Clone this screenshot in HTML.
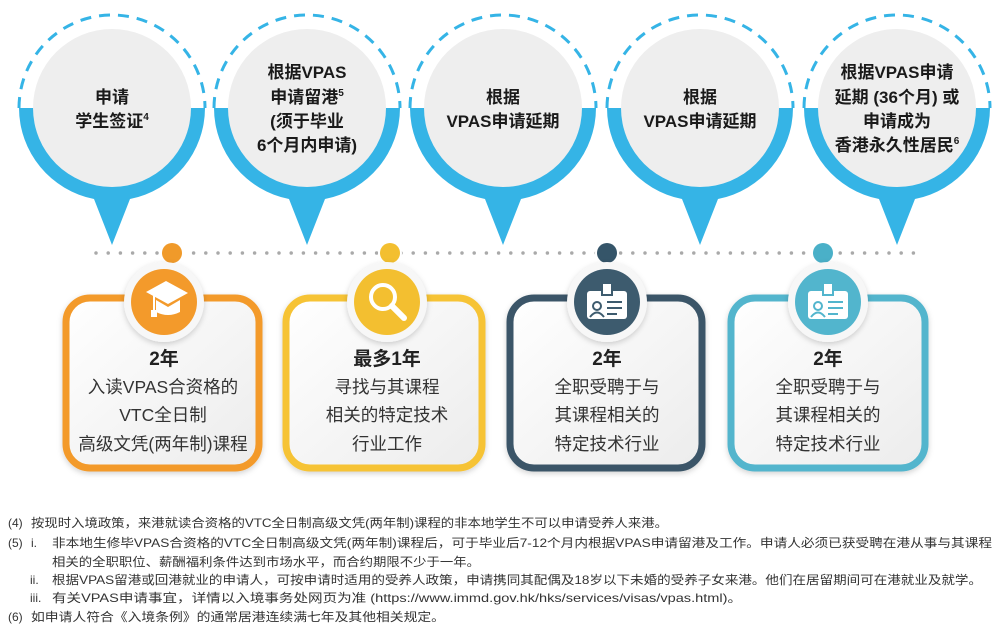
<!DOCTYPE html>
<html><head><meta charset="utf-8"><style>
html,body{margin:0;padding:0;background:#fff;width:1006px;height:630px;overflow:hidden}
svg{display:block}
.t{font-family:"Liberation Sans","Noto Sans CJK SC",sans-serif}
</style></head><body>
<svg width="1006" height="630" viewBox="0 0 1006 630" xmlns="http://www.w3.org/2000/svg">
<defs>
<linearGradient id="cg" x1="0" y1="0" x2="1" y2="1"><stop offset="0" stop-color="#ffffff"/><stop offset="1" stop-color="#ececec"/></linearGradient>
<filter id="sh" x="-20%" y="-20%" width="140%" height="140%"><feDropShadow dx="0" dy="2" stdDeviation="3" flood-color="#000" flood-opacity="0.18"/></filter>
<g id="bubble">
<path d="M -93 0 A 93 93 0 0 0 -18 91 L 0 137 L 18 91 A 93 93 0 0 0 93 0 Z" fill="#35b4e6"/>
<path d="M -93 0 A 93 93 0 0 1 93 0" fill="none" stroke="#35b4e6" stroke-width="3" stroke-dasharray="11 8"/>
<circle cx="0" cy="0" r="79" fill="#eeeeee"/>
</g>
<g id="idcard">
<rect x="-20" y="-14" width="40" height="28" rx="3" fill="#fff"/>
<rect x="-5" y="-22" width="10" height="12" fill="#fff" stroke="currentColor" stroke-width="2"/>
<circle cx="-10" cy="1" r="4" fill="none" stroke="currentColor" stroke-width="2"/>
<path d="M-17 12 Q-10 3 -3 12" fill="none" stroke="currentColor" stroke-width="2"/>
<path d="M0 -3 H15 M0 3 H15 M0 9 H10" stroke="currentColor" stroke-width="2"/>
</g>
</defs>

<use href="#bubble" x="112" y="108"/>
<use href="#bubble" x="307" y="108"/>
<use href="#bubble" x="503" y="108"/>
<use href="#bubble" x="700" y="108"/>
<use href="#bubble" x="897" y="108"/>

<g class="t" font-weight="bold" font-size="17" fill="#1a1a1a" text-anchor="middle">
<text x="112" y="103">申请</text>
<text x="112" y="127">学生签证<tspan font-size="10" dy="-7">4</tspan></text>
<text x="307" y="78">根据VPAS</text>
<text x="307" y="103">申请留港<tspan font-size="10" dy="-7">5</tspan></text>
<text x="307" y="127">(须于毕业</text>
<text x="307" y="151">6个月内申请)</text>
<text x="503" y="103">根据</text>
<text x="503" y="127">VPAS申请延期</text>
<text x="700" y="103">根据</text>
<text x="700" y="127">VPAS申请延期</text>
<text x="897" y="78">根据VPAS申请</text>
<text x="897" y="103">延期 (36个月) 或</text>
<text x="897" y="127">申请成为</text>
<text x="897" y="151">香港永久性居民<tspan font-size="10" dy="-7">6</tspan></text>
</g>

<line x1="96" y1="253" x2="922" y2="253" stroke="#a9a9a9" stroke-width="3.5" stroke-linecap="round" stroke-dasharray="0 12.2"/>
<circle cx="172" cy="253" r="12" fill="#fff"/><circle cx="172" cy="253" r="10" fill="#f09a2a"/>
<circle cx="390" cy="253" r="12" fill="#fff"/><circle cx="390" cy="253" r="10" fill="#f3bf30"/>
<circle cx="607" cy="253" r="12" fill="#fff"/><circle cx="607" cy="253" r="10" fill="#355569"/>
<circle cx="823" cy="253" r="12" fill="#fff"/><circle cx="823" cy="253" r="10" fill="#4ab0c8"/>

<g filter="url(#sh)">
<rect x="66" y="298" width="193" height="170" rx="24" fill="url(#cg)" stroke="#f39a2b" stroke-width="7"/>
<rect x="286" y="298" width="196" height="170" rx="24" fill="url(#cg)" stroke="#f6c334" stroke-width="7"/>
<rect x="510" y="298" width="192" height="170" rx="24" fill="url(#cg)" stroke="#3a5568" stroke-width="7"/>
<rect x="731" y="298" width="194" height="170" rx="24" fill="url(#cg)" stroke="#52b5cd" stroke-width="7"/>
</g>
<g filter="url(#sh)">
<circle cx="164" cy="302" r="40" fill="#f7f7f7"/>
<circle cx="387" cy="302" r="40" fill="#f7f7f7"/>
<circle cx="607" cy="302" r="40" fill="#f7f7f7"/>
<circle cx="828" cy="302" r="40" fill="#f7f7f7"/>
</g>
<circle cx="164" cy="302" r="33" fill="#f39a2b"/>
<circle cx="387" cy="302" r="33" fill="#f3bf30"/>
<circle cx="607" cy="302" r="33" fill="#3d5b6e"/>
<circle cx="828" cy="302" r="33" fill="#52b5cd"/>

<g fill="#fff">
<path d="M146 292 L166 281 L188 293 L168 304 Z"/>
<path d="M156 300 L156 312 Q168 318 180 312 L180 300 L168 307 Z"/>
<rect x="153" y="294" width="2" height="17"/>
<rect x="151" y="310" width="6" height="7"/>
</g>
<circle cx="383" cy="297" r="12" fill="none" stroke="#fff" stroke-width="4"/>
<line x1="392" y1="306" x2="404" y2="318" stroke="#fff" stroke-width="6" stroke-linecap="round"/>
<use href="#idcard" x="607" y="305" color="#3d5b6e"/>
<use href="#idcard" x="828" y="305" color="#52b5cd"/>

<g class="t" text-anchor="middle" fill="#222">
<g font-weight="bold" font-size="19">
<text x="164" y="365">2年</text>
<text x="387" y="365">最多1年</text>
<text x="607" y="365">2年</text>
<text x="828" y="365">2年</text>
</g>
<g font-size="17.5" fill="#333">
<text x="163" y="393">入读VPAS合资格的</text>
<text x="163" y="421">VTC全日制</text>
<text x="163" y="450">高级文凭(两年制)课程</text>
<text x="387" y="393">寻找与其课程</text>
<text x="387" y="421">相关的特定技术</text>
<text x="387" y="450">行业工作</text>
<text x="607" y="393">全职受聘于与</text>
<text x="607" y="421">其课程相关的</text>
<text x="607" y="450">特定技术行业</text>
<text x="828" y="393">全职受聘于与</text>
<text x="828" y="421">其课程相关的</text>
<text x="828" y="450">特定技术行业</text>
</g>
</g>

<g class="t" font-size="12" fill="#333">
<text x="8" y="527">(4)</text>
<text x="31" y="527" textLength="637" lengthAdjust="spacingAndGlyphs">按现时入境政策，来港就读合资格的VTC全日制高级文凭(两年制)课程的非本地学生不可以申请受养人来港。</text>
<text x="8" y="547">(5)</text>
<text x="31" y="547">i.</text>
<text x="52" y="547" textLength="940" lengthAdjust="spacingAndGlyphs">非本地生修毕VPAS合资格的VTC全日制高级文凭(两年制)课程后，可于毕业后7-12个月内根据VPAS申请留港及工作。申请人必须已获受聘在港从事与其课程</text>
<text x="52" y="566" textLength="428" lengthAdjust="spacingAndGlyphs">相关的全职职位、薪酬福利条件达到市场水平，而合约期限不少于一年。</text>
<text x="30" y="584">ii.</text>
<text x="52" y="584" textLength="930" lengthAdjust="spacingAndGlyphs">根据VPAS留港或回港就业的申请人，可按申请时适用的受养人政策，申请携同其配偶及18岁以下未婚的受养子女来港。他们在居留期间可在港就业及就学。</text>
<text x="30" y="602">iii.</text>
<text x="52" y="602" textLength="690" lengthAdjust="spacingAndGlyphs">有关VPAS申请事宜，详情以入境事务处网页为准 (https://www.immd.gov.hk/hks/services/visas/vpas.html)。</text>
<text x="8" y="621">(6)</text>
<text x="31" y="621" textLength="414" lengthAdjust="spacingAndGlyphs">如申请人符合《入境条例》的通常居港连续满七年及其他相关规定。</text>
</g>
</svg>
</body></html>
